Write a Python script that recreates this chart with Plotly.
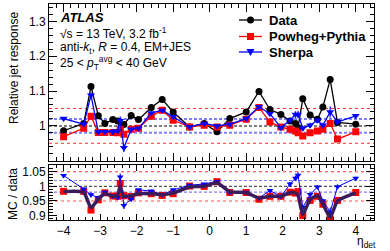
import plotly.graph_objects as go

eta = [-4.0, -3.45, -3.25, -3.05, -2.87, -2.65, -2.52, -2.45, -2.35, -2.15, -1.95, -1.6, -1.3, -1.0,
       -0.55, -0.15, 0.2, 0.55, 1.0, 1.35, 1.65, 1.95, 2.2, 2.35, 2.42, 2.55, 2.75, 2.95, 3.1, 3.3, 3.5, 4.0]

data_resp = [0.986, 1.007, 1.113, 1.029, 1.007, 1.018, 1.014, 0.985, 1.004, 1.030, 1.018, 1.053, 1.076, 1.040,
             0.997, 1.007, 0.983, 1.021, 1.040, 1.099, 1.047, 1.033, 1.014, 1.007, 0.995, 1.078, 1.031, 1.019,
             1.054, 1.133, 1.010, 1.005]
data_err = [0.003, 0.003, 0.005, 0.004, 0.004, 0.004, 0.005, 0.008, 0.006, 0.004, 0.003, 0.003, 0.003, 0.003,
            0.002, 0.002, 0.002, 0.002, 0.003, 0.003, 0.003, 0.003, 0.004, 0.005, 0.006, 0.008, 0.004, 0.004,
            0.004, 0.005, 0.004, 0.003]

powheg_resp = [0.969, 0.993, 1.028, 0.981, 0.981, 0.981, 0.980, 0.990, 0.976, 0.990, 0.993, 1.028, 1.045, 1.016,
               0.997, 1.002, 0.997, 1.002, 1.019, 1.053, 1.011, 0.997, 0.990, 0.985, 0.980, 0.971, 0.980, 0.985,
               0.990, 1.007, 0.962, 0.983]
powheg_err = [0.002] * len(eta)

sherpa_resp = [1.021, 1.005, 1.088, 0.983, 0.983, 0.983, 0.985, 1.015, 0.937, 0.990, 0.993, 1.037, 1.045, 1.026,
               0.997, 1.007, 1.000, 1.005, 1.021, 1.055, 1.035, 0.995, 1.016, 1.033, 1.033, 0.993, 1.002, 1.016,
               1.002, 1.040, 1.011, 1.029]
sherpa_err = [0.004, 0.004, 0.008, 0.006, 0.006, 0.007, 0.008, 0.012, 0.012, 0.006, 0.004, 0.004, 0.003, 0.003,
              0.003, 0.003, 0.003, 0.003, 0.003, 0.004, 0.005, 0.005, 0.007, 0.009, 0.010, 0.008, 0.007, 0.006,
              0.007, 0.016, 0.008, 0.005]

powheg_ratio = [0.983, 0.983, 0.919, 0.954, 0.978, 0.967, 0.966, 1.010, 0.968, 0.965, 0.978, 0.975, 0.969, 0.975,
                1.001, 1.000, 1.016, 0.979, 0.979, 0.956, 0.966, 0.966, 0.980, 0.977, 0.982, 0.900, 0.952, 0.966,
                0.939, 0.888, 0.952, 0.979]
sherpa_ratio = [1.037, 0.991, 0.971, 0.962, 0.980, 0.966, 0.962, 1.032, 0.935, 0.956, 0.988, 0.984, 0.971, 0.988,
                1.004, 1.008, 1.017, 0.979, 0.980, 0.960, 0.986, 0.965, 1.008, 1.028, 1.038, 0.928, 0.972, 0.998,
                0.951, 0.912, 0.999, 1.028]
ratio_fit = [0.982, 0.979, 0.927, 0.957, 0.975, 0.966, 0.970, 1.000, 0.966, 0.968, 0.975, 0.975, 0.972, 0.977,
             0.998, 1.000, 1.012, 0.982, 0.978, 0.960, 0.966, 0.966, 0.978, 0.978, 0.970, 0.904, 0.955, 0.968,
             0.940, 0.894, 0.950, 0.978]

series_names = ["Data", "Powheg+Pythia", "Sherpa"]

x_ticks = [-4, -3, -2, -1, 0, 1, 2, 3, 4]
top_ticks = [1.0, 1.1, 1.2, 1.3]
top_tick_text = ["1", "1.1", "1.2", "1.3"]
bot_ticks = [0.9, 0.95, 1.0, 1.05]
bot_tick_text = ["0.9", "0.95", "1", "1.05"]

FONT = "Liberation Sans, Arial, Helvetica, sans-serif"
BLACK = "#000000"
RED = "#ff0000"
BLUE = "#0000ff"

fig = go.Figure()

# top panel
fig.add_trace(go.Scatter(x=eta, y=data_resp, mode="lines+markers", name=series_names[0],
                         line=dict(color=BLACK, width=1.3),
                         marker=dict(symbol="circle", size=7, color=BLACK),
                         error_y=dict(type="data", array=data_err, color=BLACK, thickness=1.2, width=0),
                         xaxis="x", yaxis="y"))
fig.add_trace(go.Scatter(x=eta, y=powheg_resp, mode="lines+markers", name=series_names[1],
                         line=dict(color=RED, width=1.3),
                         marker=dict(symbol="square", size=7, color=RED),
                         error_y=dict(type="data", array=powheg_err, color=RED, thickness=1.2, width=0),
                         xaxis="x", yaxis="y"))
fig.add_trace(go.Scatter(x=eta, y=sherpa_resp, mode="lines+markers", name=series_names[2],
                         line=dict(color=BLUE, width=1.3),
                         marker=dict(symbol="triangle-down", size=7, color=BLUE),
                         error_y=dict(type="data", array=sherpa_err, color=BLUE, thickness=1.2, width=0),
                         xaxis="x", yaxis="y"))

# bottom panel
fig.add_trace(go.Scatter(x=eta, y=powheg_ratio, mode="markers",
                         marker=dict(symbol="square", size=7, color=RED),
                         error_y=dict(type="data", array=powheg_err, color=RED, thickness=1.2, width=0),
                         xaxis="x2", yaxis="y2"))
fig.add_trace(go.Scatter(x=eta, y=sherpa_ratio, mode="lines+markers",
                         line=dict(color=BLUE, width=1),
                         marker=dict(symbol="triangle-down", size=6, color=BLUE),
                         error_y=dict(type="data", array=sherpa_err, color=BLUE, thickness=1.2, width=0),
                         xaxis="x2", yaxis="y2"))
fig.add_trace(go.Scatter(x=eta, y=ratio_fit, mode="lines",
                         line=dict(color="#3a1c5c", width=3.5, shape="spline", smoothing=0.6),
                         xaxis="x2", yaxis="y2"))

XR = [-4.4, 4.5]

# reference lines
def hline(y, axis, color, dash, width):
    fig.add_shape(type="line", xref="x" if axis == "y" else "x2", yref=axis,
                  x0=XR[0], x1=XR[1], y0=y, y1=y, line=dict(color=color, dash=dash, width=width), layer="below")

for ax in ["y", "y2"]:
    hline(1.05, ax, "#ff3333", "3px,3px", 1)
    hline(0.95, ax, "#ff3333" if ax == "y" else "#ff8a8a", "3px,3px", 1 if ax == "y" else 1.5)
    hline(1.02, ax, "#8080ff", "3px,2px", 2 if ax == "y" else 1.2)
    hline(0.98, ax, "#8080ff", "3px,2px", 2 if ax == "y" else 1.2)
    hline(1.0, ax, "#555555", "3px,2px", 1.5 if ax == "y" else 1.2)

common = dict(showline=True, linecolor=BLACK, linewidth=1, mirror="ticks", ticks="inside",
              tickcolor=BLACK, zeroline=False, showgrid=False,
              tickfont=dict(family=FONT, size=12, color=BLACK))

fig.update_layout(
    width=390, height=251,
    margin=dict(l=49, r=16, t=4, b=31),
    paper_bgcolor="white", plot_bgcolor="white",
    showlegend=False,
    xaxis=dict(domain=[0, 1], range=XR, anchor="y", tickvals=x_ticks, showticklabels=False, ticklen=8,
               minor=dict(dtick=0.2, ticks="inside", ticklen=4, tickcolor=BLACK), **common),
    yaxis=dict(domain=[0.2745, 1], range=[0.9, 1.35], anchor="x", tickvals=top_ticks,
               ticktext=top_tick_text, ticklen=8,
               minor=dict(dtick=0.02, ticks="inside", ticklen=4, tickcolor=BLACK), **common),
    xaxis2=dict(domain=[0, 1], range=XR, anchor="y2", tickvals=x_ticks, ticklen=6,
                minor=dict(dtick=0.2, ticks="inside", ticklen=3, tickcolor=BLACK), **common),
    yaxis2=dict(domain=[0, 0.2546], range=[0.885, 1.073], anchor="x2", tickvals=bot_ticks,
                ticktext=bot_tick_text, ticklen=8,
                minor=dict(dtick=0.01, ticks="inside", ticklen=4, tickcolor=BLACK), **common),
)

def px_x(px):
    return (px - 49) / 325

def px_y(py):
    return (220 - py) / 216

# manual legend (compact spacing as in the reference)
leg_y = [20, 36.5, 52]
leg_colors = [BLACK, RED, BLUE]
for name, py, col, k in zip(series_names, leg_y, leg_colors, range(3)):
    fig.add_shape(type="line", xref="paper", yref="paper", x0=px_x(239), x1=px_x(262),
                  y0=px_y(py), y1=px_y(py), line=dict(color=col, width=1.3))
    if k == 0:
        fig.add_shape(type="circle", xref="paper", yref="paper", xsizemode="pixel", ysizemode="pixel",
                      xanchor=px_x(250.5), yanchor=px_y(py), x0=-3.5, x1=3.5, y0=-3.5, y1=3.5,
                      fillcolor=col, line=dict(color=col, width=0))
    elif k == 1:
        fig.add_shape(type="rect", xref="paper", yref="paper", xsizemode="pixel", ysizemode="pixel",
                      xanchor=px_x(250.5), yanchor=px_y(py), x0=-3.5, x1=3.5, y0=-3.5, y1=3.5,
                      fillcolor=col, line=dict(color=col, width=0))
    else:
        fig.add_shape(type="path", xref="paper", yref="paper", xsizemode="pixel", ysizemode="pixel",
                      xanchor=px_x(250.5), yanchor=px_y(py), path="M -4 3 L 4 3 L 0 -4 Z",
                      fillcolor=col, line=dict(color=col, width=0))
    fig.add_annotation(x=px_x(267), y=px_y(py), xref="paper", yref="paper", text="<b>%s</b>" % name,
                       showarrow=False, xanchor="left", yanchor="middle",
                       font=dict(family=FONT, size=13, color=BLACK))

ann = [
    dict(x=px_x(58), y=px_y(17), text="<b><i>ATLAS</i></b>", size=13),
    dict(x=px_x(58), y=px_y(33), text="√s = 13 TeV, 3.2 fb<sup>-1</sup>", size=12),
    dict(x=px_x(58), y=px_y(48), text="anti-<i>k</i><sub>t</sub>, <i>R</i> = 0.4, EM+JES", size=12),
    dict(x=px_x(58), y=px_y(63), text="25 < <i>p</i><sub>T</sub><sup>avg</sup> < 40 GeV", size=12),
]
for a in ann:
    fig.add_annotation(x=a["x"], y=a["y"], xref="paper", yref="paper", text=a["text"], showarrow=False,
                       xanchor="left", yanchor="middle", font=dict(family=FONT, size=a["size"], color=BLACK))

fig.add_annotation(x=px_x(14), y=px_y(10), xref="paper", yref="paper", text="Relative jet response",
                   textangle=-90, showarrow=False, xanchor="center", yanchor="top",
                   font=dict(family=FONT, size=12, color=BLACK))
fig.add_annotation(x=px_x(13), y=px_y(166), xref="paper", yref="paper", text="MC / data",
                   textangle=-90, showarrow=False, xanchor="center", yanchor="top",
                   font=dict(family=FONT, size=12, color=BLACK))
fig.add_annotation(x=px_x(378), y=px_y(232), xref="paper", yref="paper", text="η<sub>det</sub>",
                   showarrow=False, xanchor="right", yanchor="top",
                   font=dict(family=FONT, size=12, color=BLACK))

fig.write_html("out.html", config={"displayModeBar": False},
               post_script="document.body.style.margin='0px';")
